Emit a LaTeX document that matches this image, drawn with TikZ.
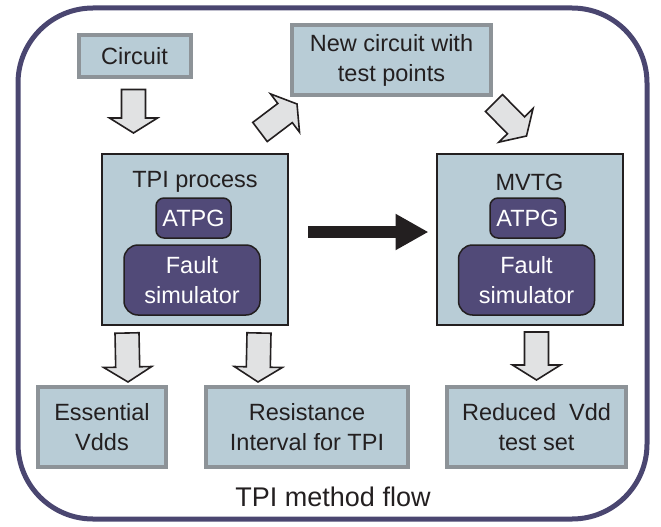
\documentclass[tikz,border=0pt]{standalone}
\usepackage{fontspec}
\setmainfont{Liberation Sans}
\usetikzlibrary{calc,arrows.meta}
\definecolor{boxblue}{RGB}{184,204,214}
\definecolor{boxgray}{RGB}{141,147,152}
\definecolor{deeppurple}{RGB}{81,74,120}
\definecolor{framepurple}{RGB}{74,70,112}
\definecolor{arrowgray}{RGB}{225,226,227}
\definecolor{inkblack}{RGB}{35,31,32}
\tikzset{
  databox/.style={draw=boxgray,line width=4pt,fill=boxblue,text=inkblack,align=center,
    font=\fontsize{23.5}{30}\selectfont},
  procbox/.style={draw=inkblack,line width=2pt,fill=boxblue,minimum width=186pt,minimum height=171pt},
  toolbox/.style={draw=inkblack,line width=1.5pt,fill=deeppurple,text=white,align=center,
    font=\fontsize{23.5}{30}\selectfont},
  hollowarr/.style={draw=inkblack,line width=1.6pt,fill=arrowgray,line join=miter}
}
% block arrow between two points
\newcommand{\hollowarrow}[2]{%
  \path[hollowarr] let \p1=(#1), \p2=(#2), \n1={atan2(\y2-\y1,\x2-\x1)} in
    ($(\p1)+(\n1+90:12pt)$) -- ($(\p2)+(\n1+180:15pt)+(\n1+90:12pt)$)
    -- ($(\p2)+(\n1+180:15pt)+(\n1+90:24pt)$) -- (\p2)
    -- ($(\p2)+(\n1+180:15pt)+(\n1-90:24pt)$) -- ($(\p2)+(\n1+180:15pt)+(\n1-90:12pt)$)
    -- ($(\p1)+(\n1-90:12pt)$) -- cycle;}

\begin{document}
\begin{tikzpicture}[x=1pt,y=-1pt]
\useasboundingbox (0,0) rectangle (661,527);
\draw[framepurple,line width=5pt,rounded corners=75pt] (18,8) rectangle (647,519);

\node[databox,minimum width=112pt,minimum height=41pt] (circuit) at (134.5,56) {Circuit};
\node[databox,minimum width=199pt,minimum height=70pt] (newckt) at (391.5,60) {New circuit with\\test points};

\node[procbox] (tpi) at (195,239.5) {};
\node[font=\fontsize{23.5}{30}\selectfont,text=inkblack] (tpitxt) at (195,182) {TPI process};
\node[toolbox,minimum width=75pt,minimum height=40pt,rounded corners=8pt] (atpga) at (193.5,218) {ATPG};
\node[toolbox,minimum width=136pt,minimum height=70pt,rounded corners=14pt] (fsima) at (192,280) {Fault\\simulator};

\node[procbox] (mvtg) at (529.5,239.5) {};
\node[font=\fontsize{23.5}{30}\selectfont,text=inkblack] (mvtgtxt) at (529.5,182) {MVTG};
\node[toolbox,minimum width=75pt,minimum height=40pt,rounded corners=8pt] (atpgb) at (527.5,218) {ATPG};
\node[toolbox,minimum width=136pt,minimum height=70pt,rounded corners=14pt] (fsimb) at (526.5,280) {Fault\\simulator};

\node[databox,minimum width=128pt,minimum height=80pt] (essential) at (102,427) {Essential\\Vdds};
\node[databox,minimum width=202pt,minimum height=80pt] (resist) at (307,427) {Resistance\\Interval for TPI};
\node[databox,minimum width=179pt,minimum height=80pt] (reduced) at (536.5,427) {Reduced\ \ Vdd\\test set};

\node[font=\fontsize{27}{32}\selectfont,text=inkblack] (title) at (333,497) {TPI method flow};

\hollowarrow{$(circuit.south)+(-1,11)$}{$(circuit.south |- tpi.north)+(-1,-20)$}
\hollowarrow{$(tpi.north)+(65,-21)$}{$(newckt.south west)+(7,7)$}
\hollowarrow{$(newckt.south east)+(1,6)$}{$(mvtg.north)+(-3,-17)$}
\hollowarrow{$(tpi.south west)+(26,7)$}{$(essential.north)+(26,-3)$}
\hollowarrow{$(tpi.south east)+(-30,7)$}{$(resist.north)+(-49,-3)$}
\hollowarrow{$(mvtg.south)+(7,6)$}{$(mvtg.south |- reduced.north)+(7,-5)$}

\draw[inkblack,line width=12pt,-{Triangle[length=33pt,width=34pt]}] ($(tpi.east)+(19,-7.5)$) -- ($(mvtg.west)+(-7,-7.5)$);
\end{tikzpicture}
\end{document}
